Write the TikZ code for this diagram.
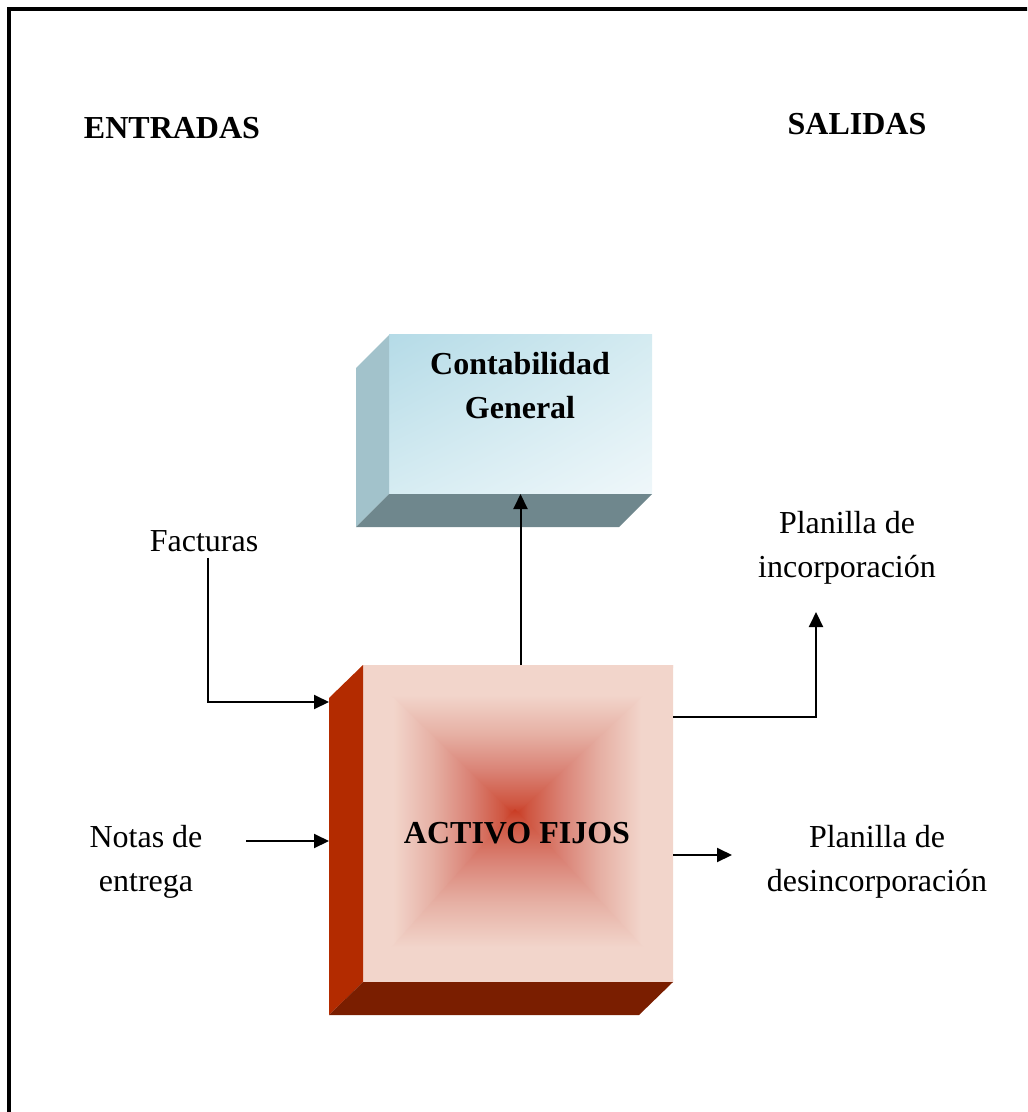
\documentclass[tikz,border=0pt]{standalone}
\usepackage{fontspec}
\setmainfont{Liberation Serif}
\usetikzlibrary{arrows.meta,calc,shadings}
\definecolor{actcore}{RGB}{201,58,34}
\definecolor{acthot}{RGB}{207,85,64}
\definecolor{actmid}{RGB}{218,131,118}
\definecolor{actsoft}{RGB}{230,176,164}
\definecolor{actedge}{RGB}{242,213,203}
\definecolor{actside}{RGB}{179,43,0}
\definecolor{actbase}{RGB}{122,30,0}
\definecolor{cgtl}{RGB}{181,219,231}
\definecolor{cgtr}{RGB}{212,235,241}
\definecolor{cgbl}{RGB}{214,236,242}
\definecolor{cgbr}{RGB}{239,247,250}
\definecolor{cgside}{RGB}{162,194,203}
\definecolor{cgbase}{RGB}{111,135,141}
\pgfdeclareverticalshading{pyr}{100bp}{color(0bp)=(actcore); color(25bp)=(actcore); color(29bp)=(acthot); color(40bp)=(actmid); color(52bp)=(actsoft); color(65bp)=(actedge); color(100bp)=(actedge)}
\tikzset{
  txt/.style={font=\fontsize{16}{22}\selectfont, align=center, outer sep=0pt},
  hd/.style={txt, font=\fontsize{16}{22}\selectfont\bfseries},
  face/.style={inner sep=0pt, outer sep=0pt},
  arr/.style={line width=1pt, -{Triangle[length=7.5pt,width=7pt]}},
}

\begin{document}
\begin{tikzpicture}[x=0.5pt,y=-0.5pt]
\path[use as bounding box, clip] (0,0) rectangle (1027,1112);
\draw[line width=1.75pt] (9,1130) -- (9,9) -- (1045,9);
\node[hd, anchor=base] (entradas) at (172,139) {ENTRADAS};
\node[hd, anchor=base] (salidas) at (857,135) {SALIDAS};
\node[face, minimum width=131.5pt, minimum height=79.5pt] (contab) at (520.5,414.5) {};
\shade[upper left=cgtl, upper right=cgtr, lower left=cgbl, lower right=cgbr] (contab.north west) rectangle (contab.south east);
\fill[cgside] (contab.north west) -- ++(-33,33) -- ++(0,159) -- (contab.south west) -- cycle;
\fill[cgbase] (contab.south west) -- (contab.south east) -- ++(-33,33) -- ++(-263,0) -- cycle;
\node[hd] (cgtxt) at (520,386) {Contabilidad\\General};
\node[face, minimum width=155pt, minimum height=158.5pt] (act) at (518,823.5) {};
\coordinate (actfoc) at (515,812);
\shade[shading=pyr, shading angle=90] (act.north west) -- (act.south west) -- (actfoc) -- cycle;
\shade[shading=pyr, shading angle=-90] (act.north east) -- (act.south east) -- (actfoc) -- cycle;
\shade[shading=pyr] (act.north west) -- (act.north east) -- ++(0,3) -- ($(actfoc)+(0,3)$) -- ($(act.north west)+(0,3)$) -- cycle;
\shade[shading=pyr, shading angle=180] (act.south west) -- (act.south east) -- ++(0,-3) -- ($(actfoc)+(0,-3)$) -- ($(act.south west)+(0,-3)$) -- cycle;
\fill[actside] (act.north west) -- ++(-34,33) -- ++(0,317) -- (act.south west) -- cycle;
\fill[actbase] (act.south west) -- (act.south east) -- ++(-34,33) -- ++(-310,0) -- cycle;
\node[hd, anchor=base] (acttxt) at (517,843) {ACTIVO FIJOS};
\node[txt, anchor=base] (fact) at (204,551) {Facturas};
\node[txt] (notas) at (146,862) {Notas de\\entrega};
\node[txt] (inc) at (847,548) {Planilla de\\incorporación};
\node[txt] (desinc) at (877,862) {Planilla de\\desincorporación};
\coordinate (factin) at (329,702);
\coordinate (notasout) at (246,841);
\coordinate (notasin) at (329,841);
\coordinate (incout) at (673,717);
\coordinate (incin) at (816,612);
\coordinate (desout) at (673,855);
\coordinate (desin) at (732,855);
\draw[arr] ($(fact.south)+(4,0)$) |- (factin);
\draw[arr] (notasout) -- (notasin);
\draw[arr] (contab.south |- act.north) -- (contab.south);
\draw[arr] (incout) -| (incin);
\draw[arr] (desout) -- (desin);
\end{tikzpicture}
\end{document}
